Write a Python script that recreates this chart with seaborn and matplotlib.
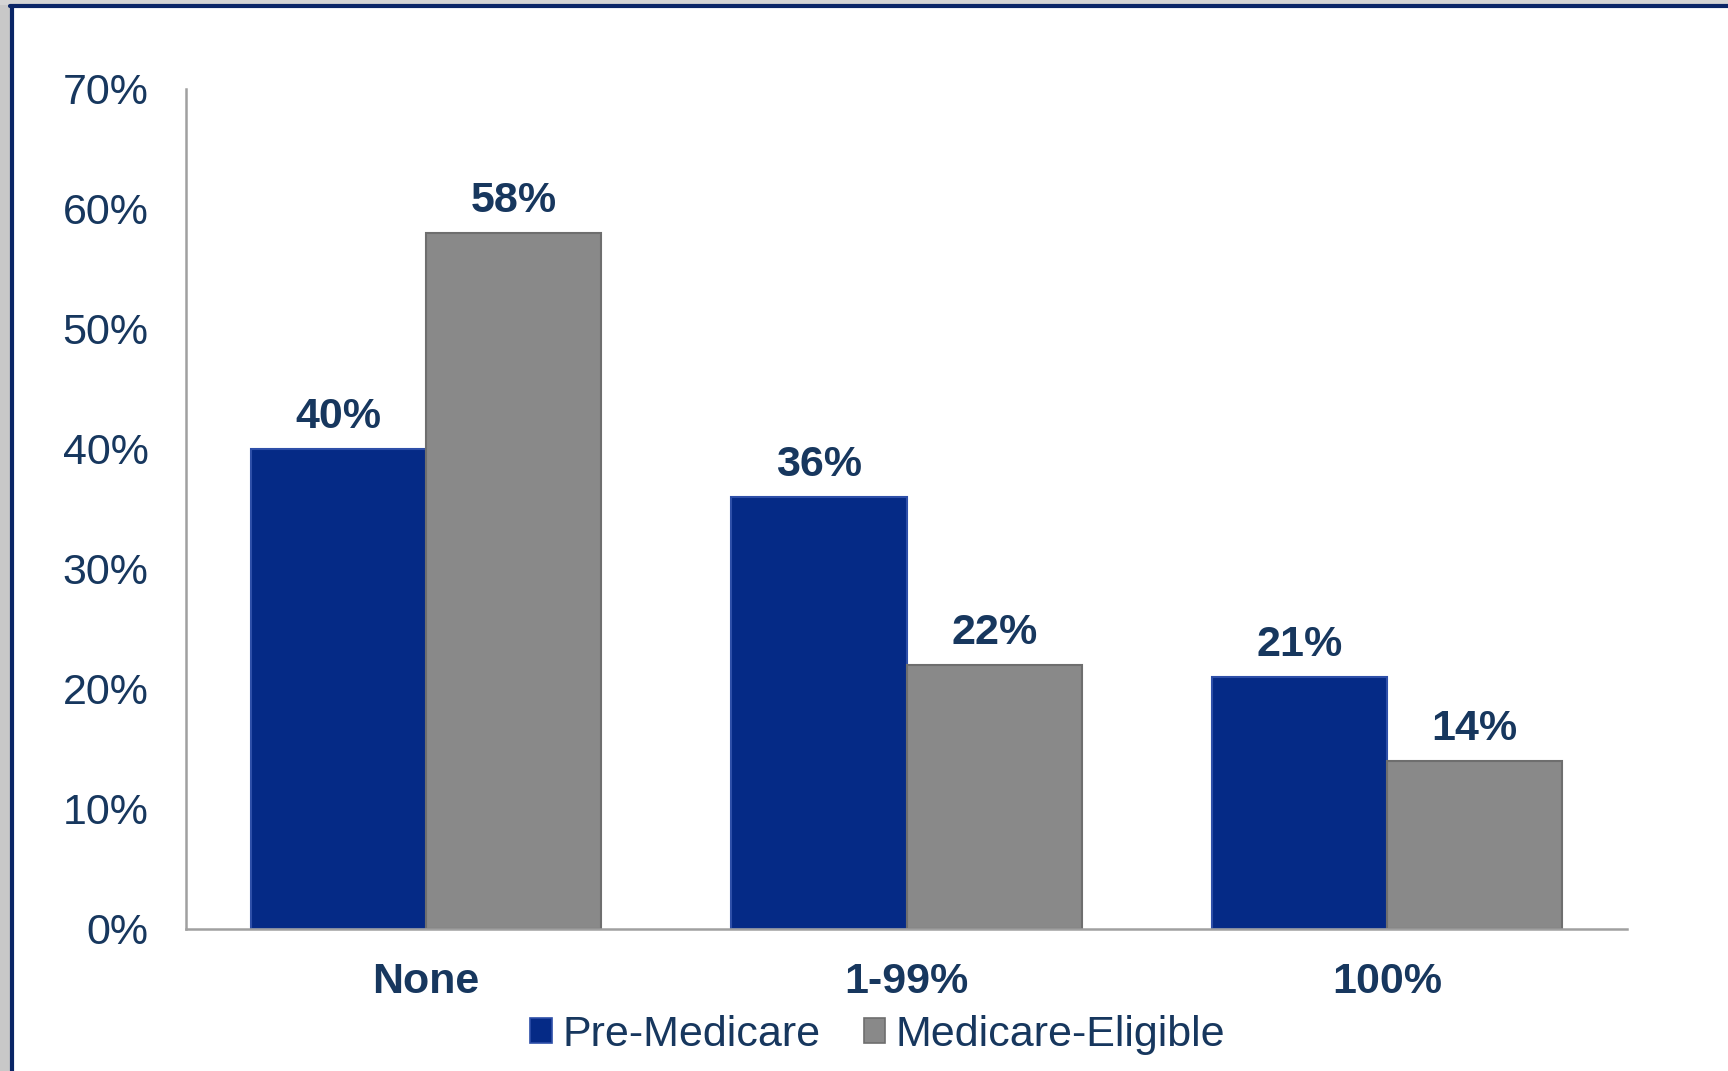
import matplotlib
matplotlib.use("Agg")
import matplotlib.pyplot as plt
import matplotlib.patches as mpatches
from matplotlib.lines import Line2D
import seaborn as sns
import pandas as pd

categories = ["None", "1-99%", "100%"]
series = ["Pre-Medicare", "Medicare-Eligible"]
pre_medicare = [40, 36, 21]
medicare_eligible = [58, 22, 14]
yticks = [0, 10, 20, 30, 40, 50, 60, 70]
ytick_labels = ["0%", "10%", "20%", "30%", "40%", "50%", "60%", "70%"]

colors = {"Pre-Medicare": "#052A86", "Medicare-Eligible": "#898989"}
edges = {"Pre-Medicare": "#2E4FA8", "Medicare-Eligible": "#6E6E6E"}
text_color = "#17375E"

df = pd.DataFrame({
    "category": categories * 2,
    "series": [series[0]] * 3 + [series[1]] * 3,
    "value": pre_medicare + medicare_eligible,
})

sns.set_theme(style="white")
plt.rcParams["font.family"] = ["Liberation Sans", "DejaVu Sans"]

fig = plt.figure(figsize=(17.28, 10.71), dpi=100)
fig.patch.set_facecolor("white")
# gray margins on left and top, navy border line
fig.patches.append(mpatches.Rectangle((0, 0), 10 / 1728, 1, transform=fig.transFigure,
                                      facecolor="#C8C8C8", edgecolor="none", zorder=-5))
fig.patches.append(mpatches.Rectangle((0, 1 - 5 / 1071), 1, 5 / 1071, transform=fig.transFigure,
                                      facecolor="#D4D4D4", edgecolor="none", zorder=-5))
fig.lines.append(Line2D([11.5 / 1728, 11.5 / 1728], [0, 1 - 6 / 1071], transform=fig.transFigure,
                        color="#0A2566", linewidth=3.0, zorder=-4))
fig.lines.append(Line2D([10 / 1728, 1], [1 - 6 / 1071, 1 - 6 / 1071], transform=fig.transFigure,
                        color="#0A2566", linewidth=3.0, zorder=-4))

ax = fig.add_axes([186 / 1728, 1 - 929 / 1071, (1627 - 186) / 1728, (929 - 89) / 1071])
ax.set_facecolor("none")

sns.barplot(data=df, x="category", y="value", hue="series", order=categories,
            hue_order=series, palette=colors, width=0.73, gap=0, ax=ax,
            legend=False, errorbar=None, saturation=1)

for container, s in zip(ax.containers, series):
    for bar in container:
        bar.set_edgecolor(edges[s])
        bar.set_linewidth(1.5)
    ax.bar_label(container, labels=[f"{int(v)}%" for v in container.datavalues],
                 padding=9, fontsize=31, fontweight="bold", color=text_color)

ax.set_ylim(0, 70)
ax.set_yticks(yticks)
ax.set_yticklabels(ytick_labels, fontsize=31, color=text_color)
ax.set_xticklabels(categories, fontsize=31, fontweight="bold", color=text_color)
ax.tick_params(axis="y", length=0, pad=27)
ax.tick_params(axis="x", length=0, pad=24)
ax.set_xlabel("")
ax.set_ylabel("")
for side in ["top", "right"]:
    ax.spines[side].set_visible(False)
for side in ["left", "bottom"]:
    ax.spines[side].set_color("#A0A0A0")
    ax.spines[side].set_linewidth(1.8)

handles = [mpatches.Patch(facecolor=colors[s], edgecolor=edges[s], linewidth=1.2) for s in series]
leg = fig.legend(handles, series, loc="center", bbox_to_anchor=(0.508, 1 - 1035 / 1071),
                 ncol=2, frameon=False, fontsize=31, handlelength=0.5, handleheight=0.5,
                 handletextpad=0.25, columnspacing=1.0)
for t in leg.get_texts():
    t.set_color(text_color)

fig.savefig("out.png", dpi=100, facecolor=fig.get_facecolor())
